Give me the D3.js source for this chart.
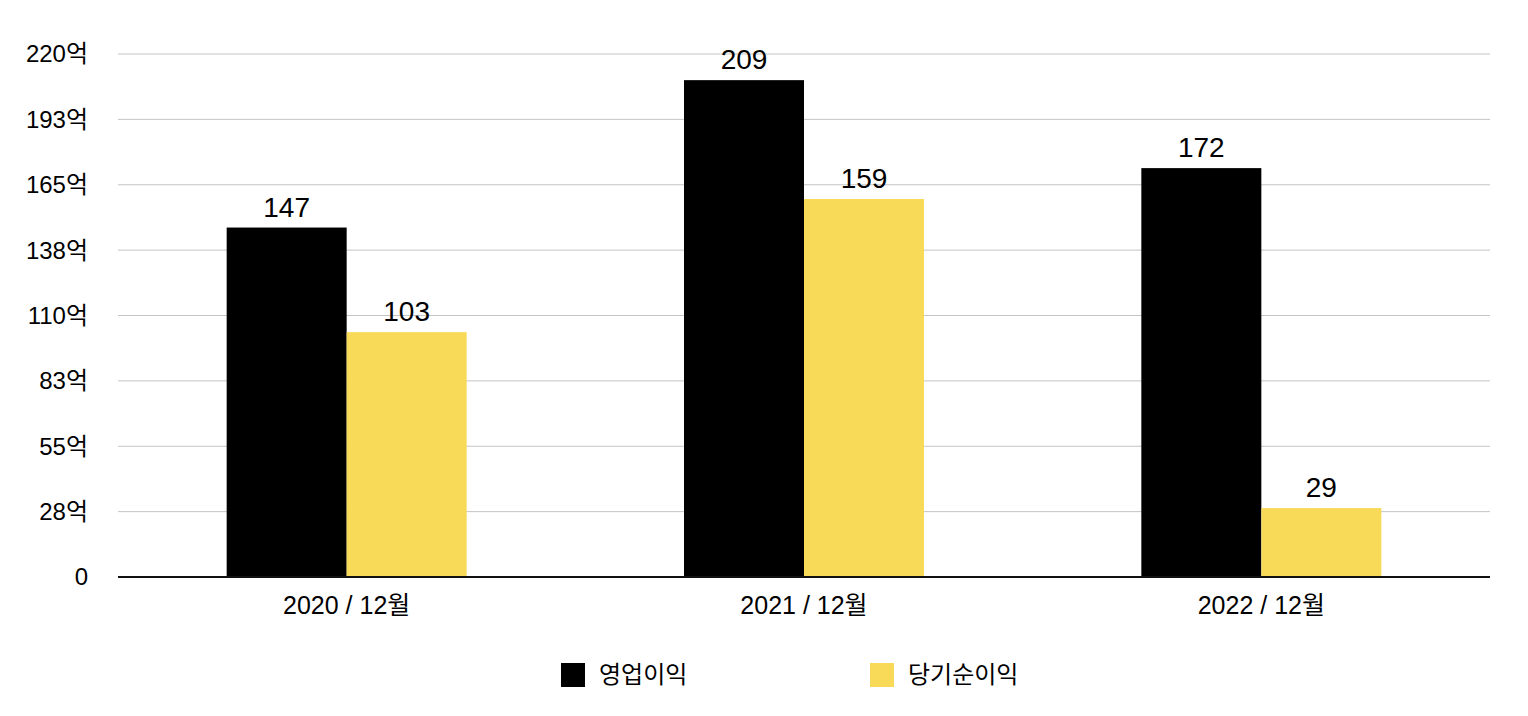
<!DOCTYPE html>
<html>
  <head>
    <meta charset="utf-8">
    <style>
      body { margin: 0; background: #fff; }
      text { font-family: "Liberation Sans", Arial, "Noto Sans CJK KR", sans-serif; fill: #000; }
      .grid line { stroke: #c4c4c4; stroke-width: 1px; }
    </style>
    <script src="https://d3js.org/d3.v7.min.js"></script>
  </head>
  <body>
    <svg class="chart"></svg>

    <script>
      const categories = ['2020 / 12월', '2021 / 12월', '2022 / 12월'];
      const seriesNames = ['영업이익', '당기순이익'];
      const operating = [147, 209, 172];
      const netIncome = [103, 159, 29];
      const tickValues = [0, 27.5, 55, 82.5, 110, 137.5, 165, 192.5, 220];
      const tickLabels = ['0', '28억', '55억', '83억', '110억', '138억', '165억', '193억', '220억'];
      const colors = ['#000000', '#f8da58'];

      const width = 1528;
      const height = 716;
      const margin = { top: 54, right: 38, bottom: 139, left: 118 };
      const innerW = width - margin.left - margin.right;
      const innerH = height - margin.top - margin.bottom;

      const svg = d3.select('svg')
        .attr('width', width)
        .attr('height', height);

      const g = svg.append('g')
        .attr('transform', `translate(${margin.left},${margin.top})`);

      const data = categories.map((c, i) => ({ cat: c, values: [operating[i], netIncome[i]] }));

      const x0 = d3.scaleBand().domain(categories).range([0, innerW]).paddingInner(0).paddingOuter(0);
      const x1 = d3.scaleBand().domain([0, 1]).range([x0.bandwidth() / 2 - 120, x0.bandwidth() / 2 + 120]);
      const y = d3.scaleLinear().domain([0, 220]).range([innerH, 0]);

      // gridlines
      g.append('g').attr('class', 'grid')
        .selectAll('line')
        .data(tickValues.slice(1))
        .join('line')
        .attr('x1', 0).attr('x2', innerW)
        .attr('y1', d => y(d)).attr('y2', d => y(d));

      // y labels
      g.append('g')
        .selectAll('text')
        .data(tickValues)
        .join('text')
        .attr('x', -30)
        .attr('y', d => y(d))
        .attr('dy', '0.35em')
        .attr('text-anchor', 'end')
        .style('font-size', '24px')
        .text((d, i) => tickLabels[i]);

      // bars
      const groups = g.selectAll('.grp')
        .data(data)
        .join('g')
        .attr('transform', d => `translate(${x0(d.cat)},0)`);

      groups.selectAll('rect')
        .data(d => d.values.map((v, k) => ({ k, v })))
        .join('rect')
        .attr('x', d => x1(d.k))
        .attr('width', x1.bandwidth())
        .attr('y', d => y(d.v))
        .attr('height', d => innerH - y(d.v))
        .attr('fill', d => colors[d.k]);

      groups.selectAll('text.val')
        .data(d => d.values.map((v, k) => ({ k, v })))
        .join('text')
        .attr('class', 'val')
        .attr('x', d => x1(d.k) + x1.bandwidth() / 2)
        .attr('y', d => y(d.v) - 11)
        .attr('text-anchor', 'middle')
        .style('font-size', '28px')
        .text(d => d.v);

      // baseline
      g.append('line')
        .attr('x1', 0).attr('x2', innerW)
        .attr('y1', innerH).attr('y2', innerH)
        .attr('stroke', '#111').attr('stroke-width', 2);

      // x labels
      g.append('g')
        .selectAll('text')
        .data(categories)
        .join('text')
        .attr('x', d => x0(d) + x0.bandwidth() / 2)
        .attr('y', innerH + 37)
        .attr('text-anchor', 'middle')
        .style('font-size', '25px')
        .text(d => d);

      // legend
      const legendX = [561, 870];
      const legend = svg.append('g')
        .selectAll('g')
        .data(seriesNames)
        .join('g')
        .attr('transform', (d, i) => `translate(${legendX[i]},663)`);

      legend.append('rect')
        .attr('width', 24).attr('height', 24)
        .attr('fill', (d, i) => colors[i]);

      legend.append('text')
        .attr('x', 38)
        .attr('y', 12)
        .attr('dy', '0.35em')
        .style('font-size', '24px')
        .text(d => d);
    </script>
  </body>
</html>
